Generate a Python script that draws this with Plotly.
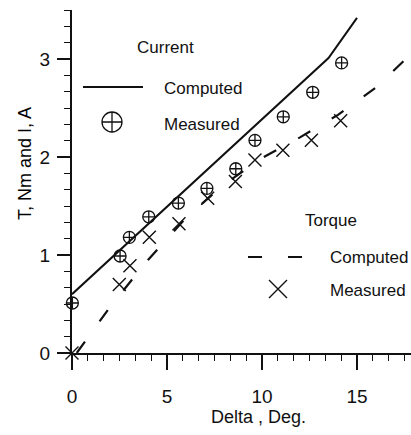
import plotly.graph_objects as go

# ---- data ----
cur_comp_x = [0.0, 13.5, 15.0]
cur_comp_y = [0.60, 3.01, 3.42]

cur_meas_x = [0.02, 2.53, 3.02, 4.04, 5.60, 7.10, 8.62, 9.63, 11.12, 12.67, 14.19]
cur_meas_y = [0.51, 0.99, 1.18, 1.39, 1.53, 1.68, 1.88, 2.17, 2.41, 2.66, 2.96]

trq_comp_x = [0.25, 2.0, 4.0, 6.0, 8.0, 10.0, 12.0, 14.0, 16.0, 18.0]
trq_comp_y = [0.00, 0.47, 0.95, 1.38, 1.72, 1.99, 2.20, 2.43, 2.71, 3.08]

trq_meas_x = [0.0, 2.49, 3.05, 4.07, 5.63, 7.14, 8.60, 9.63, 11.10, 12.60, 14.14]
trq_meas_y = [0.0, 0.70, 0.89, 1.18, 1.32, 1.58, 1.75, 1.97, 2.07, 2.17, 2.37]

x_ticks = [0, 5, 10, 15]
y_ticks = [0, 1, 2, 3]
minor_per_major = 6

W, H = 411, 435
L, R, T, B = 72, 0, 10, 82
XMAX = (W - L - R) / 19.0
YMAX = 3.5

FONT = "Liberation Sans, Arial, sans-serif"
INK = "#111111"

x_minor = [i * 5 / minor_per_major for i in range(0, 22) if i * 5 / minor_per_major <= XMAX]
y_minor = [i * 1 / minor_per_major for i in range(0, 22) if i / minor_per_major <= YMAX + 1e-9]


def px2x(px):
    return (px - L) / (W - L - R) * XMAX


def py2y(py):
    return (H - B - py) / (H - B - T) * YMAX


fig = go.Figure()

fig.add_trace(go.Scatter(x=cur_comp_x, y=cur_comp_y, mode="lines",
                         line=dict(color=INK, width=2), showlegend=False))
fig.add_trace(go.Scatter(x=trq_comp_x, y=trq_comp_y, mode="lines",
                         line=dict(color=INK, width=2.2, dash="14px,25px"),
                         showlegend=False))
fig.add_trace(go.Scatter(x=cur_meas_x, y=cur_meas_y, mode="markers",
                         marker=dict(symbol="circle-cross-open", size=12, color=INK,
                                     line=dict(width=1.3, color=INK)),
                         showlegend=False, cliponaxis=False))
fig.add_trace(go.Scatter(x=trq_meas_x, y=trq_meas_y, mode="markers",
                         marker=dict(symbol="x-thin-open", size=13, color=INK,
                                     line=dict(width=1.4, color=INK)),
                         showlegend=False, cliponaxis=False))

# invisible trace anchoring the minor-tick overlay axes
fig.add_trace(go.Scatter(x=[0], y=[0], xaxis="x2", yaxis="y2", mode="markers",
                         marker=dict(opacity=0), hoverinfo="skip", showlegend=False))

# ---- hand-drawn legend blocks ----
fig.add_shape(type="line", x0=px2x(83), x1=px2x(143), y0=py2y(87), y1=py2y(87),
              line=dict(color=INK, width=2))
fig.add_shape(type="line", x0=px2x(248), x1=px2x(302), y0=py2y(257), y1=py2y(257),
              line=dict(color=INK, width=2.2, dash="14px,26px"))
fig.add_trace(go.Scatter(x=[px2x(112)], y=[py2y(122)], mode="markers",
                         marker=dict(symbol="circle-cross-open", size=20, color=INK,
                                     line=dict(width=1.3, color=INK)),
                         showlegend=False))
fig.add_trace(go.Scatter(x=[px2x(278)], y=[py2y(289)], mode="markers",
                         marker=dict(symbol="x-thin-open", size=18, color=INK,
                                     line=dict(width=1.4, color=INK)),
                         showlegend=False))

legend_texts = [
    ("Current", 135, 47),
    ("Computed", 162, 88),
    ("Measured", 162, 124),
    ("Torque", 303, 220),
    ("Computed", 328, 257),
    ("Measured", 328, 290),
]
for txt, px, py in legend_texts:
    fig.add_annotation(x=px2x(px), y=py2y(py), text=txt, showarrow=False,
                       xanchor="left", yanchor="middle",
                       font=dict(family=FONT, size=17, color=INK))

# axis titles
fig.add_annotation(xref="paper", yref="paper",
                   x=(258 - L) / (W - L - R), y=(H - B - 417) / (H - B - T),
                   text="Delta , Deg.", showarrow=False,
                   xanchor="center", yanchor="middle",
                   font=dict(family=FONT, size=18, color=INK))
fig.add_annotation(xref="paper", yref="paper",
                   x=(25 - L) / (W - L - R), y=(H - B - 163) / (H - B - T),
                   text="T, Nm and I, A", showarrow=False, textangle=-90,
                   xanchor="center", yanchor="middle",
                   font=dict(family=FONT, size=18, color="#000000"))

fig.update_layout(
    width=W, height=H,
    margin=dict(l=L, r=R, t=T, b=B),
    paper_bgcolor="white", plot_bgcolor="white",
    showlegend=False,
    xaxis=dict(range=[0, XMAX], tickmode="array", tickvals=x_ticks,
               showgrid=False, zeroline=False,
               showline=True, linecolor=INK, linewidth=2,
               ticks="outside", ticklen=15, tickwidth=1.6, tickcolor=INK,
               ticklabelstandoff=10,
               tickfont=dict(family=FONT, size=19, color=INK)),
    yaxis=dict(range=[0, YMAX], tickmode="array", tickvals=y_ticks,
               showgrid=False, zeroline=False,
               showline=True, linecolor=INK, linewidth=2,
               ticks="outside", ticklen=13, tickwidth=1.6, tickcolor=INK,
               ticklabelstandoff=3,
               tickfont=dict(family=FONT, size=19, color=INK)),
    xaxis2=dict(overlaying="x", anchor="y2", side="bottom", range=[0, XMAX],
                tickmode="array", tickvals=x_minor, showticklabels=False,
                ticks="outside", ticklen=7, tickwidth=1.4, tickcolor=INK,
                showgrid=False, zeroline=False, showline=False),
    yaxis2=dict(overlaying="y", anchor="x2", side="left", range=[0, YMAX],
                tickmode="array", tickvals=y_minor, showticklabels=False,
                ticks="outside", ticklen=7, tickwidth=1.4, tickcolor=INK,
                showgrid=False, zeroline=False, showline=False),
)

fig.write_html("out.html")
